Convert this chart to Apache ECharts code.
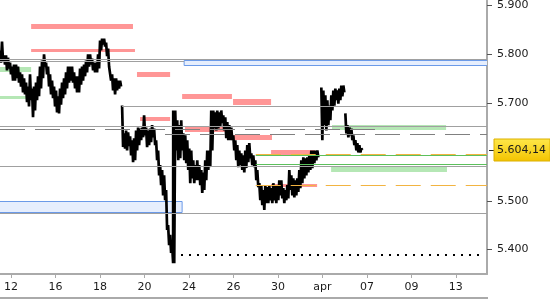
<!DOCTYPE html>
<html><head><meta charset="utf-8">
<script src="https://cdn.jsdelivr.net/npm/echarts@6/dist/echarts.min.js"></script>
<style>html,body{margin:0;padding:0;background:#fff}#c{width:550px;height:300px}</style>
</head><body><div id="c"></div>
<script>
// x axis: trading-day index (0 = 12 Mar), labels every 2 trading days
const dayTicks = [0,2,4,6,8,10,12,14,16,18,20];
const dayLabels = ['12','16','18','20','24','26','30','apr','07','09','13'];
const priceTicks = [5.4,5.5,5.7,5.8,5.9];
const lastPrice = 5.60414;

// price buckets [time, high, low] per session
const s1 = [
[-0.50,5.808,5.783],[-0.41,5.826,5.787],[-0.32,5.798,5.779],[-0.23,5.798,5.767],[-0.14,5.793,5.771],
[-0.05,5.783,5.759],[0.04,5.775,5.746],[0.13,5.779,5.746],[0.22,5.779,5.751],[0.31,5.775,5.742],
[0.40,5.763,5.734],[0.49,5.759,5.722],[0.58,5.751,5.718],[0.67,5.742,5.702],[0.76,5.734,5.693],
[0.85,5.759,5.706],[0.94,5.730,5.671],[1.03,5.734,5.685],[1.12,5.742,5.706],[1.21,5.755,5.714],
[1.30,5.775,5.730],[1.39,5.787,5.751],[1.48,5.800,5.775],[1.57,5.783,5.759],[1.66,5.775,5.734],
[1.75,5.759,5.718],[1.84,5.746,5.710],[1.93,5.734,5.693],[2.02,5.726,5.681],[2.11,5.714,5.679],
[2.20,5.730,5.697],[2.29,5.742,5.710],[2.38,5.751,5.718],[2.47,5.763,5.730],[2.56,5.775,5.742],
[2.65,5.775,5.746],[2.74,5.775,5.742],[2.83,5.763,5.730],[2.92,5.755,5.722],[3.01,5.755,5.722],
[3.10,5.771,5.738],[3.19,5.775,5.746],[3.28,5.779,5.755],[3.37,5.787,5.763],[3.46,5.800,5.775],
[3.55,5.800,5.779],[3.64,5.791,5.767],[3.73,5.783,5.763],[3.82,5.783,5.763],[3.91,5.800,5.771],
[4.00,5.828,5.808],[4.09,5.832,5.820],[4.18,5.832,5.816],[4.27,5.824,5.796],[4.36,5.812,5.775],
[4.45,5.779,5.746],[4.54,5.759,5.726],[4.63,5.751,5.718],[4.72,5.751,5.726],[4.81,5.746,5.730],
[4.90,5.746,5.734]
];
const s2 = [
[4.99,5.695,5.610],[5.08,5.638,5.607],[5.17,5.644,5.603],[5.26,5.640,5.612],[5.35,5.632,5.593],
[5.44,5.624,5.579],[5.53,5.628,5.583],[5.62,5.644,5.603],[5.71,5.650,5.614],[5.80,5.648,5.624],
[5.89,5.650,5.630],[5.98,5.675,5.634],[6.07,5.650,5.610],[6.16,5.644,5.614],[6.25,5.648,5.620],
[6.34,5.655,5.630],[6.43,5.648,5.614],[6.52,5.624,5.583],[6.61,5.603,5.552],[6.70,5.573,5.532],
[6.79,5.563,5.511],[6.88,5.552,5.501],[6.97,5.522,5.440],[7.06,5.450,5.409],[7.15,5.430,5.393],
[7.24,5.409,5.372],[7.29,5.685,5.372],[7.38,5.685,5.603],[7.47,5.665,5.583],[7.56,5.655,5.587],
[7.65,5.665,5.603],[7.74,5.638,5.583],[7.83,5.634,5.577],[7.92,5.624,5.563],[8.01,5.607,5.536],
[8.10,5.603,5.546],[8.19,5.583,5.536],[8.28,5.573,5.542],[8.37,5.583,5.542],[8.46,5.573,5.532],
[8.55,5.563,5.516],[8.64,5.558,5.522],[8.73,5.583,5.542],[8.82,5.603,5.563],[8.91,5.603,5.569],
[9.00,5.685,5.603],[9.09,5.685,5.648],[9.18,5.681,5.644],[9.27,5.685,5.648],[9.36,5.681,5.652],
[9.45,5.685,5.659],[9.54,5.675,5.644],[9.63,5.671,5.628],[9.72,5.661,5.624],[9.81,5.655,5.624],
[9.90,5.650,5.624],[9.99,5.634,5.603],[10.08,5.624,5.583],[10.17,5.614,5.569],[10.26,5.603,5.573],
[10.35,5.597,5.563],[10.44,5.593,5.558],[10.53,5.603,5.567],[10.62,5.614,5.579],[10.71,5.618,5.587],
[10.80,5.597,5.573],[10.89,5.593,5.569],[10.98,5.583,5.542],[11.07,5.563,5.528],[11.16,5.536,5.501],
[11.25,5.532,5.491],[11.34,5.522,5.481],[11.43,5.532,5.495],[11.52,5.528,5.495],[11.61,5.532,5.501],
[11.70,5.526,5.495],[11.79,5.536,5.501],[11.88,5.530,5.495],[11.97,5.532,5.501],[12.06,5.542,5.511],
[12.15,5.542,5.505],[12.24,5.526,5.495],[12.33,5.522,5.501],[12.42,5.532,5.505],[12.51,5.563,5.522],
[12.60,5.552,5.511],[12.69,5.546,5.507],[12.78,5.542,5.511],[12.87,5.546,5.518],[12.96,5.563,5.526],
[13.05,5.583,5.536],[13.14,5.589,5.546],[13.23,5.587,5.552],[13.32,5.589,5.558],[13.41,5.593,5.563],
[13.50,5.603,5.567],[13.59,5.603,5.577],[13.68,5.603,5.583],[13.77,5.603,5.589]
];
const s3 = [
[13.95,5.732,5.624],[14.04,5.726,5.655],[14.13,5.716,5.644],[14.22,5.706,5.655],[14.31,5.695,5.665],
[14.40,5.716,5.685],[14.49,5.726,5.695],[14.58,5.730,5.706],[14.67,5.726,5.699],[14.76,5.730,5.706],
[14.85,5.736,5.714],[14.94,5.736,5.722]
];
const s4 = [
[15.03,5.679,5.638],[15.12,5.655,5.630],[15.21,5.650,5.634],[15.30,5.648,5.624],[15.39,5.634,5.614],
[15.48,5.624,5.603],[15.57,5.618,5.599],[15.66,5.614,5.599],[15.75,5.607,5.604]
];

// horizontal levels [from, to, price]
const grayLevels = [[-0.5,21.4,5.790],[-0.5,7.78,5.786],[4.99,21.4,5.695],[-0.5,21.4,5.654],[-0.5,21.4,5.571],[-0.5,21.4,5.475]];
const dashedLevels = [[-0.5,16.5,5.646],[6.92,21.4,5.636]];
const orangeLevels = [[11.0,21.4,5.596],[11.0,21.4,5.532]];
const greenLines = [[11.0,21.4,5.593],[11.0,21.4,5.576]];
const lowLevel = [[7.28,21.3,5.389]];
const pinkZones = [
[0.9,5.48,5.856],[0.9,5.57,5.807],[5.66,7.15,5.758],[7.69,9.93,5.713],[9.98,11.69,5.702],
[5.80,7.15,5.667],[7.82,9.84,5.646],[9.98,11.73,5.629],[11.69,13.67,5.598],[11.69,13.76,5.532]
];
const greenZones = [[-0.6,0.9,5.768],[-0.6,0.85,5.711],[14.43,19.56,5.651],[14.39,19.6,5.564]];
// boxes [from, to, low, high]
const blueBoxes = [[-0.6,7.69,5.478,5.499],[7.78,21.5,5.779,5.789]];

// styles (kept separate)
const pinkWidths = [5,3,5,5,6,4,6,5,5,3];
const greenWidths = [5,3,5,5];
const FONT = 'DejaVu Sans';

const priceData = [];
[s1,s2,s3,s4].forEach((s, si) => {
  if (si > 0) priceData.push([s[0][0] - 0.05, '-']);
  s.forEach(b => { priceData.push([b[0], b[1]]); priceData.push([b[0] + 0.045, b[2]]); });
});

function levelSeries(list, opt) {
  return {
    type: 'custom', z: opt.z, silent: true, animation: false, clip: true,
    data: list.map(l => [l[0], l[1], l[2]]),
    encode: { x: [0, 1], y: 2 },
    renderItem: (params, api) => {
      const a = api.coord([api.value(0), api.value(2)]);
      const b = api.coord([api.value(1), api.value(2)]);
      if (opt.widths) {
        const w = opt.widths[params.dataIndex];
        return { type: 'rect', shape: { x: a[0], y: Math.round(a[1] - w / 2), width: b[0] - a[0], height: w }, style: { fill: opt.color } };
      }
      const lw = opt.lineWidth || 1;
      const y = lw % 2 ? Math.round(a[1]) + 0.5 : Math.round(a[1]);
      return { type: 'line', shape: { x1: a[0], y1: y, x2: b[0], y2: y }, style: { stroke: opt.color, lineWidth: lw, lineDash: opt.dash || null } };
    }
  };
}

const chart = echarts.init(document.getElementById('c'), null, { renderer: 'canvas' });
chart.setOption({
  animation: false,
  grid: { left: 0, right: 63, top: 0, bottom: 26 },
  xAxis: {
    type: 'value', min: -0.5, max: 21.4,
    axisLine: { show: true, onZero: false, lineStyle: { color: '#aaaaaa', width: 2 } },
    axisTick: { show: true, customValues: dayTicks, length: 4, lineStyle: { color: '#aaaaaa' } },
    axisLabel: { customValues: dayTicks, formatter: v => dayLabels[Math.round(v / 2)], color: '#1a1a1a', fontFamily: FONT, fontSize: 11, margin: 8 },
    splitLine: { show: false }
  },
  yAxis: {
    type: 'value', position: 'right', min: 5.35, max: 5.91, scale: true,
    axisLine: { show: true, onZero: false, lineStyle: { color: '#aaaaaa', width: 2 } },
    axisTick: { show: true, customValues: priceTicks, length: 5, lineStyle: { color: '#555555' } },
    axisLabel: { customValues: priceTicks, formatter: v => v.toFixed(3), color: '#1a1a1a', fontFamily: FONT, fontSize: 11, margin: 10 },
    splitLine: { show: false }
  },
  series: [
    {
      type: 'custom', z: 1, silent: true, animation: false, clip: true,
      data: blueBoxes, encode: { x: [0, 1], y: [2, 3] },
      renderItem: (params, api) => {
        const p1 = api.coord([api.value(0), api.value(3)]);
        const p2 = api.coord([api.value(1), api.value(2)]);
        const y1 = Math.round(p1[1]) + 0.5, y2 = Math.round(p2[1]) + 0.5;
        return { type: 'rect', shape: { x: p1[0], y: y1, width: p2[0] - p1[0], height: y2 - y1 }, style: { fill: '#e6eefd', stroke: '#6b9ae8', lineWidth: 1 } };
      }
    },
    levelSeries(pinkZones, { z: 2, color: '#ff9696', widths: pinkWidths }),
    levelSeries(greenZones, { z: 2, color: '#b5e7b5', widths: greenWidths }),
    {
      type: 'line', z: 4, data: priceData, symbol: 'none', silent: true, animation: false,
      connectNulls: false, lineStyle: { color: '#000000', width: 2.7 }
    },
    levelSeries(grayLevels, { z: 5, color: '#a0a0a0' }),
    levelSeries(dashedLevels, { z: 5, color: '#808080', dash: [25, 10] }),
    levelSeries(greenLines, { z: 5, color: '#5cc05c' }),
    levelSeries(orangeLevels, { z: 6, color: '#f2b441', dash: [25, 10] }),
    levelSeries(lowLevel, { z: 5, color: '#000000', lineWidth: 2, dash: [2, 6] })
  ]
});

const py = chart.convertToPixel({ yAxisIndex: 0 }, lastPrice);
const ps = lastPrice.toFixed(5);
const lastLabel = ps.slice(0, 5) + ',' + ps.slice(5);
chart.setOption({
  graphic: [
    { type: 'line', shape: { x1: 0, y1: 298, x2: 488, y2: 298 }, style: { stroke: '#aaaaaa', lineWidth: 2 }, silent: true },
    { type: 'line', shape: { x1: 489, y1: Math.round(py) + 0.5, x2: 494, y2: Math.round(py) + 0.5 }, style: { stroke: '#222222', lineWidth: 1 }, silent: true },
    { type: 'rect', shape: { x: 494, y: Math.round(py) - 11, width: 56, height: 22 },
      style: { fill: new echarts.graphic.LinearGradient(0, 0, 0, 1, [{ offset: 0, color: '#ffe84a' }, { offset: 1, color: '#f3c300' }]), stroke: '#dcb000', lineWidth: 1 }, silent: true },
    { type: 'text', x: 497, y: Math.round(py), style: { text: lastLabel, fill: '#1a1a1a', font: '11px "' + FONT + '"', textVerticalAlign: 'middle', verticalAlign: 'middle' }, silent: true }
  ]
});
</script></body></html>
